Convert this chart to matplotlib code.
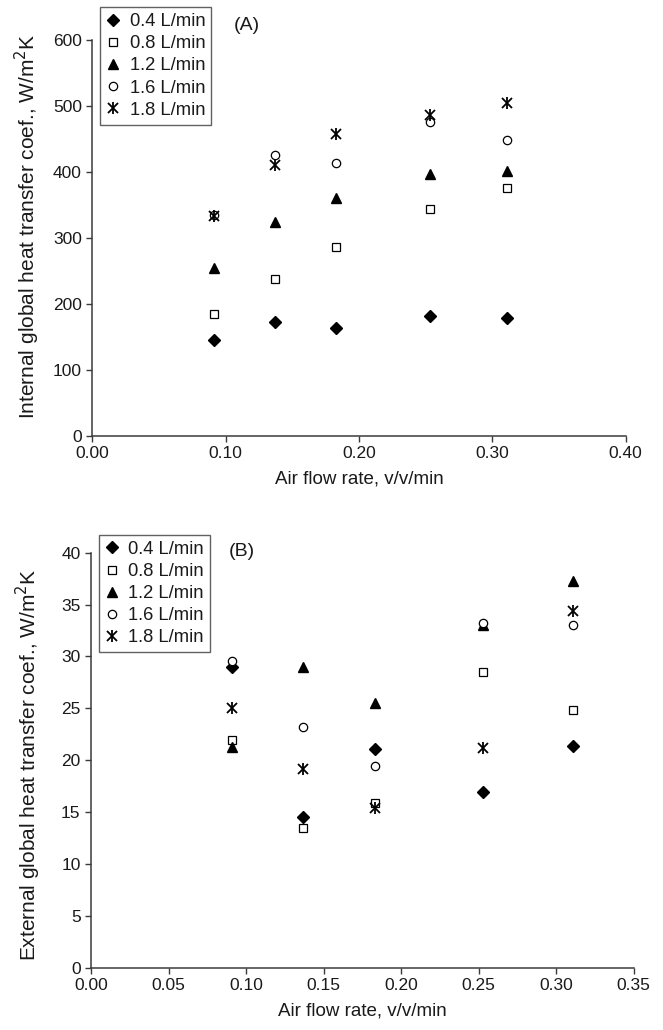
import matplotlib
matplotlib.use("Agg")
import matplotlib.pyplot as plt

plt.rcParams['font.family'] = ['Liberation Sans', 'DejaVu Sans']

air_flow = [0.091, 0.137, 0.183, 0.253, 0.311]
series_labels = ["0.4 L/min", "0.8 L/min", "1.2 L/min", "1.6 L/min", "1.8 L/min"]

internal_04 = [145, 172, 163, 181, 179]
internal_08 = [185, 237, 286, 343, 375]
internal_12 = [254, 324, 360, 397, 401]
internal_16 = [335, 425, 413, 475, 449]
internal_18 = [333, 411, 458, 486, 505]

external_04 = [29.0, 14.5, 21.1, 16.9, 21.4]
external_08 = [21.9, 13.5, 15.9, 28.5, 24.8]
external_12 = [21.3, 29.0, 25.5, 33.0, 37.3]
external_16 = [29.6, 23.2, 19.4, 33.2, 33.0]
external_18 = [25.0, 19.2, 15.4, 21.2, 34.4]

xticks_a = [0.00, 0.10, 0.20, 0.30, 0.40]
yticks_a = [0, 100, 200, 300, 400, 500, 600]
xticks_b = [0.00, 0.05, 0.10, 0.15, 0.20, 0.25, 0.30, 0.35]
yticks_b = [0, 5, 10, 15, 20, 25, 30, 35, 40]

W, H = 663, 1030
fig = plt.figure(figsize=(W / 100, H / 100), dpi=100)

TXT = '#1a1a1a'
SP = '#3a3a3a'


def draw(ax, ys, xticks, yticks, xlim, ylim, ylabel, ylab_xy, legend_box, tag, tag_xy):
    styles = [
        dict(marker='D', ms=6, mfc='black', mec='black'),
        dict(marker='s', ms=6, mfc='white', mec='black', mew=0.9),
        dict(marker='^', ms=7.5, mfc='black', mec='black'),
        dict(marker='o', ms=6, mfc='white', mec='black', mew=0.9),
    ]
    handles = []
    for y, st in zip(ys[:4], styles):
        h, = ax.plot(air_flow, y, linestyle='none', zorder=3, **st)
        handles.append(h)
    h1, = ax.plot(air_flow, ys[4], linestyle='none', marker='x', ms=7,
                  mec='black', mew=1.3, zorder=3)
    h2, = ax.plot(air_flow, ys[4], linestyle='none', marker='|', ms=8,
                  mec='black', mew=1.3, zorder=3)
    handles.append((h1, h2))

    ax.set_xlim(*xlim)
    ax.set_ylim(*ylim)
    ax.set_xticks(xticks)
    ax.set_xticklabels([f"{v:.2f}" for v in xticks])
    ax.set_yticks(yticks)
    ax.set_yticklabels([f"{v:g}" for v in yticks])
    for s in ['top', 'right']:
        ax.spines[s].set_visible(False)
    for s in ['left', 'bottom']:
        ax.spines[s].set_color(SP)
        ax.spines[s].set_linewidth(1.1)
    ax.tick_params(direction='out', length=4.5, width=1.0, color=SP,
                   labelsize=12.5, labelcolor=TXT, pad=3)
    ax.set_xlabel("Air flow rate, v/v/min", fontsize=13.5, color=TXT, labelpad=7)
    ax.set_ylabel(ylabel, fontsize=15, color=TXT)
    ax.yaxis.set_label_coords(*ylab_xy)
    ax.patch.set_alpha(0)

    x0, y0 = legend_box
    leg = fig.legend(handles, series_labels, loc='upper left',
                     bbox_to_anchor=(x0 / W, 1 - y0 / H),
                     bbox_transform=fig.transFigure,
                     fontsize=13.2, frameon=True, fancybox=False,
                     edgecolor=SP, handlelength=0.8, handletextpad=0.5,
                     labelspacing=0.28, borderpad=0.32, borderaxespad=0,
                     numpoints=1)
    leg.get_frame().set_linewidth(1.0)
    for t in leg.get_texts():
        t.set_color(TXT)
    fig.text(tag_xy[0] / W, 1 - tag_xy[1] / H, tag, fontsize=14, color=TXT,
             ha='left', va='center')


axA = fig.add_axes([92.3 / W, 1 - 435.7 / H, (625.7 - 92.3) / W, (435.7 - 40) / H])
draw(axA, [internal_04, internal_08, internal_12, internal_16, internal_18],
     xticks_a, yticks_a, (0, 0.40), (0, 600),
     "Internal global heat transfer coef., W/m$^2$K", (-0.094, 0.53),
     (100, 7.3), "(A)", (234, 25))

axB = fig.add_axes([91 / W, 1 - 967.7 / H, (633.7 - 91) / W, (967.7 - 552.7) / H])
draw(axB, [external_04, external_08, external_12, external_16, external_18],
     xticks_b, yticks_b, (0, 0.35), (0, 40),
     "External global heat transfer coef., W/m$^2$K", (-0.088, 0.49),
     (98.7, 535), "(B)", (229, 551))

fig.savefig("out.png", dpi=100)
